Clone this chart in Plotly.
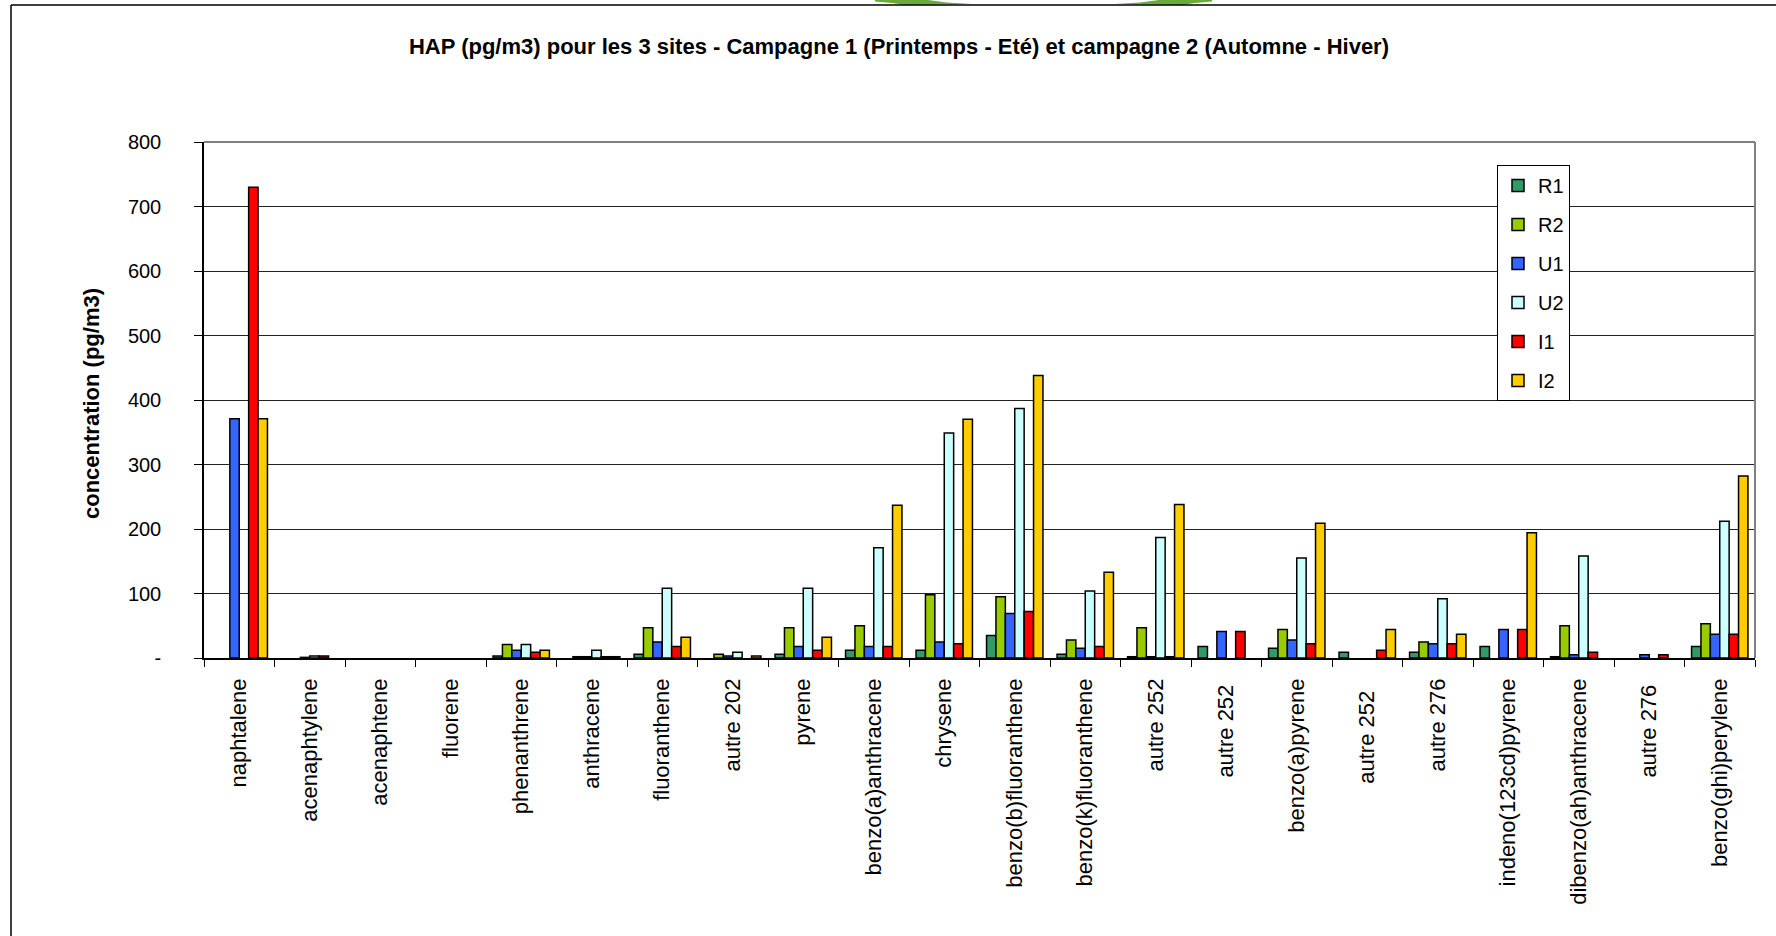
import plotly.graph_objects as go

# PAH species (x categories)
categories = [
    "naphtalene", "acenaphtylene", "acenaphtene", "fluorene", "phenanthrene",
    "anthracene", "fluoranthene", "autre 202", "pyrene", "benzo(a)anthracene",
    "chrysene", "benzo(b)fluoranthene", "benzo(k)fluoranthene", "autre 252",
    "autre 252 ", "benzo(a)pyrene", "autre 252  ", "autre 276",
    "indeno(123cd)pyrene", "dibenzo(ah)anthracene", "autre 276 ", "benzo(ghi)perylene",
]

# concentrations in pg/m3 for each site / campaign
R1 = [0, 0, 0, 0, 3, 0, 6, 0, 6, 12, 12, 35, 6, 2, 18, 15, 9, 9, 18, 2, 0, 18]
R2 = [0, 0, 0, 0, 21, 2, 47, 6, 47, 50, 98, 95, 28, 47, 0, 44, 0, 25, 0, 50, 0, 53]
U1 = [371, 1, 0, 0, 12, 2, 25, 3, 18, 18, 25, 69, 15, 2, 41, 28, 0, 22, 44, 5, 5, 37]
U2 = [0, 3, 0, 0, 21, 12, 108, 9, 108, 171, 349, 387, 104, 187, 0, 155, 0, 92, 0, 158, 0, 212]
I1 = [730, 3, 0, 0, 9, 2, 18, 0, 12, 18, 22, 72, 18, 2, 41, 22, 12, 22, 44, 9, 5, 37]
I2 = [371, 0, 0, 0, 12, 2, 32, 3, 32, 237, 370, 438, 133, 238, 0, 209, 44, 37, 194, 0, 0, 282]

series_names = ["R1", "R2", "U1", "U2", "I1", "I2"]
series_values = [R1, R2, U1, U2, I1, I2]
series_colors = ["#339966", "#99CC00", "#3366FF", "#CCFFFF", "#FF0000", "#FFCC00"]

y_tick_values = [0, 100, 200, 300, 400, 500, 600, 700, 800]
y_tick_labels = ["-", "100", "200", "300", "400", "500", "600", "700", "800"]

FONT = "Liberation Sans, Arial, sans-serif"
W, H = 1776, 936
L, R, T, B = 204, 21, 142, 278  # plot area margins in px
PW, PH = W - L - R, H - T - B


def px_x(px):
    return (px - L) / PW


def px_y(py):
    return (H - B - py) / PH


def paper_path(points):
    return "M " + " L ".join(f"{px_x(x):.5f},{px_y(y):.5f}" for x, y in points) + " Z"


fig = go.Figure()
for name, vals, col in zip(series_names, series_values, series_colors):
    fig.add_trace(go.Bar(
        name=name, x=categories, y=[v if v else None for v in vals], legendgroup=name,
        marker=dict(color=col, line=dict(color="#000000", width=1.5)),
    ))

leaf = "#6aaa3a"

fig.update_layout(
    width=W, height=H,
    margin=dict(l=L, r=R, t=T, b=B, autoexpand=False),
    paper_bgcolor="white", plot_bgcolor="white",
    barmode="group", bargap=0.2, bargroupgap=0,
    font=dict(family=FONT, color="#000000", size=19),
    title=dict(
        text="<b>HAP (pg/m3) pour les 3 sites - Campagne 1 (Printemps - Eté) et campagne 2 (Automne - Hiver)</b>",
        x=899 / W, xanchor="center", y=1 - 46 / H, yanchor="middle",
        font=dict(family=FONT, size=22, color="#000000"),
    ),
    showlegend=True,
    legend=dict(
        x=px_x(1497), xanchor="left", y=px_y(165), yanchor="top",
        bgcolor="white", bordercolor="#000000", borderwidth=1,
        font=dict(family=FONT, size=20), tracegroupgap=10, itemwidth=30,
    ),
    xaxis=dict(
        type="category", showgrid=False, showline=True, linecolor="#000000", linewidth=1.5,
        ticks="outside", tickson="boundaries", ticklen=7, tickcolor="#000000",
        tickangle=-90, tickfont=dict(family=FONT, size=22), ticklabelstandoff=10,
        mirror=False, zeroline=False,
    ),
    yaxis=dict(
        range=[0, 800], tickvals=y_tick_values, ticktext=y_tick_labels,
        showgrid=True, gridcolor="#222222", gridwidth=1,
        showline=True, linecolor="#000000", linewidth=1.5,
        ticks="outside", ticklen=8, tickcolor="#000000",
        tickfont=dict(family=FONT, size=20), ticklabelstandoff=29, zeroline=False,
    ),
    annotations=[dict(
        text="<b>concentration (pg/m3)</b>", textangle=-90,
        xref="paper", yref="paper", x=px_x(91), y=px_y(403),
        xanchor="center", yanchor="middle", showarrow=False,
        font=dict(family=FONT, size=22, color="#000000"),
    )],
    shapes=[
        # plot area border on top and right
        dict(type="line", xref="paper", yref="paper", x0=0, x1=1, y0=1, y1=1,
             line=dict(color="#808080", width=2)),
        dict(type="line", xref="paper", yref="paper", x0=1, x1=1, y0=0, y1=1,
             line=dict(color="#808080", width=2)),
        # outer chart frame
        dict(type="line", xref="paper", yref="paper", x0=px_x(11), x1=px_x(11),
             y0=px_y(H), y1=px_y(5), line=dict(color="#000000", width=1.5)),
        dict(type="line", xref="paper", yref="paper", x0=px_x(11), x1=px_x(W),
             y0=px_y(5), y1=px_y(5), line=dict(color="#000000", width=1.5)),
        # green leaf edges showing above the frame
        dict(type="path", xref="paper", yref="paper", layer="below",
             path=paper_path([(875, 0), (928, 0), (947, 2.5), (972, 4), (905, 5), (892, 3), (875, 1.5)]),
             fillcolor=leaf, line=dict(width=0)),
        dict(type="path", xref="paper", yref="paper", layer="below",
             path=paper_path([(1212, 0), (1159, 0), (1140, 2.5), (1115, 4), (1182, 5), (1195, 3), (1212, 1.5)]),
             fillcolor=leaf, line=dict(width=0)),
    ],
)

fig.write_html("out.html")
